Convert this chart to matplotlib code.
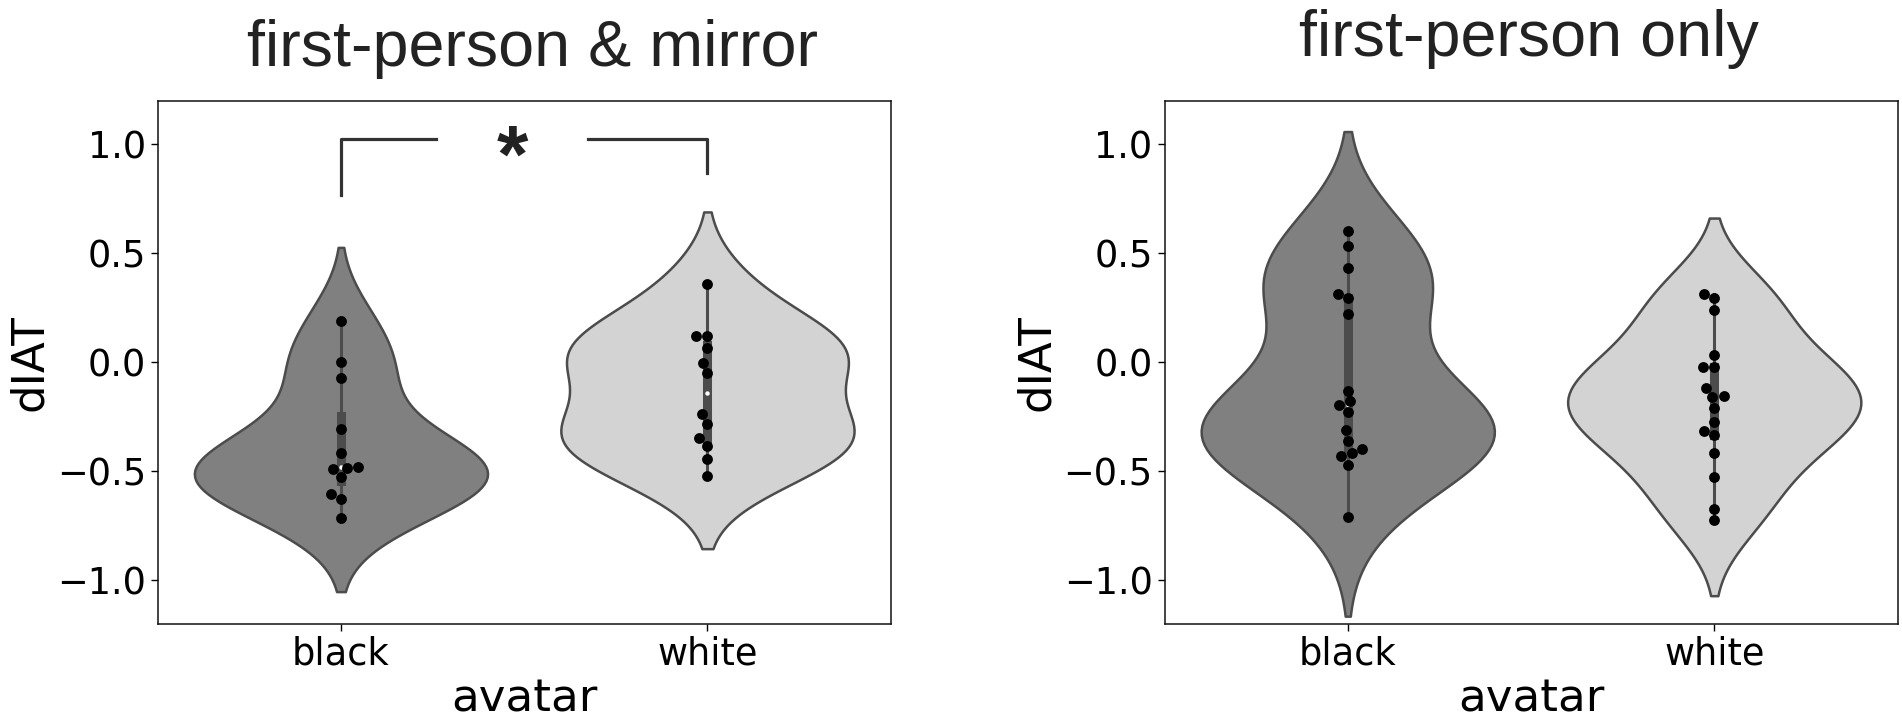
import matplotlib
matplotlib.use("Agg")
import matplotlib.pyplot as plt
import seaborn as sns
import numpy as np

# ---- data ----
categories = ["black", "white"]

mirror_black = [0.189, -0.001, -0.074, -0.305, -0.416, -0.48, -0.485, -0.49,
                -0.527, -0.605, -0.627, -0.716]
mirror_white = [0.357, 0.118, 0.118, 0.064, -0.003, -0.048, -0.239, -0.282,
                -0.35, -0.383, -0.443, -0.524]

only_black = [0.604, 0.533, 0.431, 0.314, 0.292, 0.222, -0.131, -0.18, -0.198,
              -0.229, -0.312, -0.361, -0.399, -0.418, -0.433, -0.473, -0.712]
only_white = [0.313, 0.292, 0.239, 0.031, -0.023, -0.023, -0.12, -0.154, -0.162,
              -0.211, -0.274, -0.316, -0.334, -0.416, -0.527, -0.673, -0.724]

titles = ["first-person & mirror", "first-person only"]
yticks = [-1.0, -0.5, 0.0, 0.5, 1.0]

# significance bracket (left panel)
bracket_left_x = [0, 0, 0.26]
bracket_left_y = [0.765, 1.026, 1.026]
bracket_right_x = [0.675, 1, 1]
bracket_right_y = [1.026, 1.026, 0.867]
star_pos = (0.467, 1.016)

W, H = 1902, 721
fig = plt.figure(figsize=(W / 100, H / 100), dpi=100)

ax_w = 733 / W
ax_h = 522.8 / H
ax_b = 1 - 623.5 / H
ax1 = fig.add_axes([157.7 / W, ax_b, ax_w, ax_h])
ax2 = fig.add_axes([1164.5 / W, ax_b, ax_w, ax_h])

palette = ["#808080", "#d3d3d3"]
linecol = "#4c4c4c"

panels = [(ax1, mirror_black, mirror_white, titles[0], 25.0, 0.512),
          (ax2, only_black, only_white, titles[1], 32.5, 0.497)]

for ax, b, w, title, pad, tx in panels:
    xs = [categories[0]] * len(b) + [categories[1]] * len(w)
    ys = list(b) + list(w)
    sns.violinplot(x=xs, y=ys, hue=xs, palette=palette, order=categories,
                   hue_order=categories, legend=False, inner="box",
                   linecolor=linecol, linewidth=1.8, saturation=1, ax=ax,
                   inner_kws={"box_width": 6.5, "whis_width": 2.2, "marker": "None"})
    for i, vals in enumerate([b, w]):
        ax.plot([i], [np.median(vals)], marker="o", color="white",
                markersize=3.2, markeredgewidth=0, zorder=4)
    sns.swarmplot(x=xs, y=ys, order=categories, color="black", size=7.8,
                  ax=ax, zorder=5)
    ax.set_ylim(-1.2, 1.2)
    ax.set_xlim(-0.5, 1.5)
    ax.set_yticks(yticks)
    ax.set_yticklabels([f"{t:.1f}".replace("-", "\u2212") for t in yticks])
    ax.tick_params(axis="both", labelsize=26.5, length=5, width=1.0)
    ax.set_xlabel("avatar", fontsize=32.5)
    ax.set_ylabel("dIAT", fontsize=32.5)
    ax.set_title(title, fontsize=46.5, family="Liberation Sans", color="#222222",
                 pad=pad, x=tx)
    for s in ax.spines.values():
        s.set_visible(True)
        s.set_linewidth(1.1)
        s.set_color("#111111")

ax1.plot(bracket_left_x, bracket_left_y, color="#333333", lw=2.3)
ax1.plot(bracket_right_x, bracket_right_y, color="#333333", lw=2.3)
ax1.annotate("*", xy=star_pos, xycoords="data", ha="center", va="center",
             fontsize=58, fontweight="bold", family="Liberation Sans",
             color="#222222", xytext=(0, -14), textcoords="offset points")

fig.savefig("out.png", dpi=100)
